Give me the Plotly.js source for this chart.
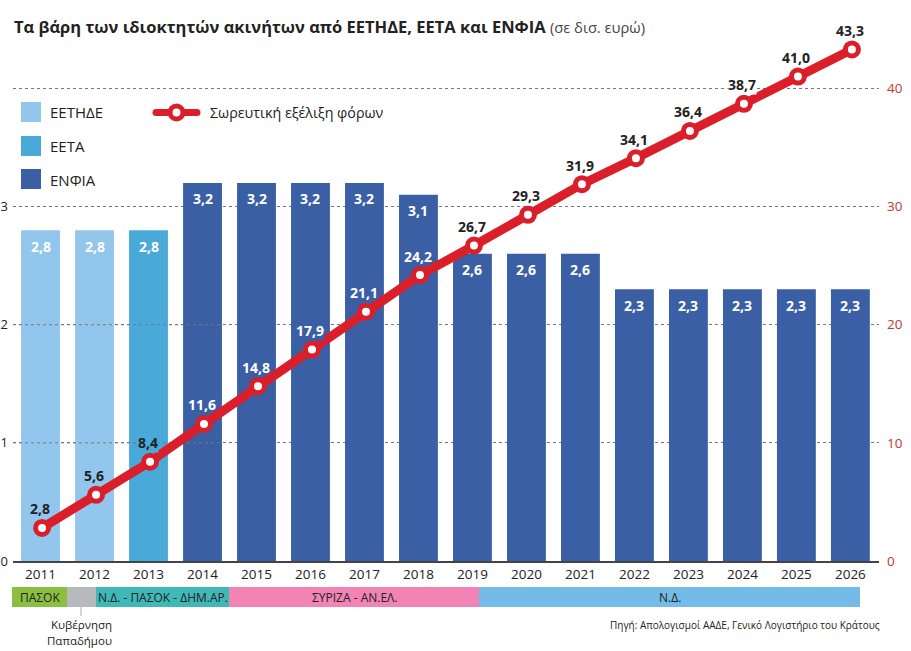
<!DOCTYPE html>
<html><head><meta charset="utf-8">
<script src="https://cdn.plot.ly/plotly-3.0.1.min.js"></script>
<style>html,body{margin:0;padding:0;background:#fff}</style></head>
<body><div id="chart" style="width:911px;height:651px"></div>
<script>
const years = [2011,2012,2013,2014,2015,2016,2017,2018,2019,2020,2021,2022,2023,2024,2025,2026];
const eetide = [2.8,2.8,null,null,null,null,null,null,null,null,null,null,null,null,null,null];
const eeta   = [null,null,2.8,null,null,null,null,null,null,null,null,null,null,null,null,null];
const enfia  = [null,null,null,3.2,3.2,3.2,3.2,3.1,2.6,2.6,2.6,2.3,2.3,2.3,2.3,2.3];
const cumulative = [2.8,5.6,8.4,11.6,14.8,17.9,21.1,24.2,26.7,29.3,31.9,34.1,36.4,38.7,41.0,43.3];
const leftTicks = [0,1,2,3];
const rightTicks = [0,10,20,30,40];
const W=911,H=651,L=13,R=32,T=40,B=90;
const FONT='"Open Sans", sans-serif';
const C={light:'#93c6ec',mid:'#49a9d9',dark:'#3b5fa5',red:'#da1f2b',txt:'#222',grid:'#777'};
const XRANGE=[2010.49,2026.53], LINE_SHIFT=0.028;
const fmt=v=>v.toFixed(1).replace('.',',');
const px=x=>(x-L)/(W-L-R), py=y=>1-(y-T)/(H-T-B);
function barTrace(name,vals,color){return {type:'bar',name,x:years,y:vals,width:0.72,marker:{color,line:{width:0}},yaxis:'y',hoverinfo:'x+y'};}
const traces=[
 barTrace('ΕΕΤΗΔΕ',eetide,C.light),barTrace('ΕΕΤΑ',eeta,C.mid),barTrace('ΕΝΦΙΑ',enfia,C.dark),
 {type:'scatter',mode:'lines',name:'grid',x:[XRANGE[0],2014.36,null,XRANGE[0],2014.36],y:[10,10,null,20,20],yaxis:'y2',hoverinfo:'skip',
  line:{color:C.grid,width:1,dash:'3px,3px'}},
 {type:'scatter',mode:'lines+markers',name:'Σωρευτική εξέλιξη φόρων',x:years,y:cumulative,xaxis:'x2',yaxis:'y2',
  line:{color:C.red,width:9},marker:{size:13,color:'#fff',line:{color:C.red,width:5}}}
];
const ann=[];
function note(x,y,text,size,color,anchor){ann.push({xref:'paper',yref:'paper',x:px(x),y:py(y),text,showarrow:false,xanchor:anchor||'left',yanchor:'middle',font:{family:FONT,size,color:color||C.txt}});}
[eetide,eeta,enfia].forEach(s=>s.forEach((v,i)=>{if(v!=null)ann.push({x:years[i],y:v,xref:'x',yref:'y',text:'<b>'+fmt(v)+'</b>',showarrow:false,yshift:-16,yanchor:'middle',font:{family:FONT,size:14,color:'#fff'}});}));
const whiteLabels=[2014,2015,2016,2017,2018];
const labelBg={2013:C.mid,2016:C.dark,2024:'#fff'};
cumulative.forEach((v,i)=>{const a={x:years[i],y:v,xref:'x2',yref:'y2',text:'<b>'+fmt(v)+'</b>',showarrow:false,xshift:-2,yshift:19,yanchor:'middle',borderpad:0,font:{family:FONT,size:14,color:whiteLabels.includes(years[i])?'#fff':C.txt}};
 if(labelBg[years[i]])a.bgcolor=labelBg[years[i]];ann.push(a);});
note(48,112.5,'ΕΕΤΗΔΕ',15);note(48,146,'ΕΕΤΑ',15);note(48,180,'ΕΝΦΙΑ',15);
note(208,112.5,'Σωρευτική εξέλιξη φόρων',14.3);
const bands=[[12,67,'#8cbf3f','ΠΑΣΟΚ'],[67,96,'#b7b9bc',''],[96,229,'#3fb8b8','Ν.Δ. - ΠΑΣΟΚ - ΔΗΜ.ΑΡ.'],[229,479,'#f184b5','ΣΥΡΙΖΑ - ΑΝ.ΕΛ.'],[479,860,'#74bbe8','Ν.Δ.']];
const rect=(x0,y0,x1,y1,c)=>({type:'rect',xref:'paper',yref:'paper',x0:px(x0),x1:px(x1),y0:py(y0),y1:py(y1),fillcolor:c,line:{width:0},layer:'above'});
const circ=(cx,cy,r,fill,lw)=>({type:'circle',xref:'paper',yref:'paper',x0:px(cx-r),x1:px(cx+r),y0:py(cy+r),y1:py(cy-r),fillcolor:fill,line:{color:C.red,width:lw},layer:'above'});
const shapes=[
 rect(21,102,41,122,C.light),rect(21,136,41,156,C.mid),rect(21,169,41,189,C.dark),
 rect(156,109,197,116,C.red),circ(156,112.5,3.5,C.red,0),circ(197,112.5,3.5,C.red,0),circ(176.5,112.5,6.5,'#fff',5),
 {type:'line',xref:'paper',yref:'paper',x0:px(81),x1:px(81),y0:py(607),y1:py(616),line:{color:'#aaa',width:1}}
];
bands.forEach(b=>shapes.push(rect(b[0],587,b[1],607,b[2])));
bands.forEach(b=>{if(b[3])note((b[0]+b[1])/2,597,b[3],12,C.txt,'center');});
note(114,624.5,'Κυβέρνηση',11.5,C.txt,'right');note(114,640.5,'Παπαδήμου',11.5,C.txt,'right');
note(882,625,'Πηγή: Απολογισμοί ΑΑΔΕ, Γενικό Λογιστήριο του Κράτους',10,C.txt,'right');
const layout={
 width:W,height:H,autosize:false,paper_bgcolor:'#fff',plot_bgcolor:'#fff',showlegend:false,barmode:'overlay',
 margin:{l:L,r:R,t:T,b:B,pad:0},
 title:{text:'<b>Τα βάρη των ιδιοκτητών ακινήτων από ΕΕΤΗΔΕ, ΕΕΤΑ και ΕΝΦΙΑ</b> <span style="font-size:14.7px;color:#444">(σε δισ. ευρώ)</span>',xref:'container',yref:'container',x:14/W,xanchor:'left',y:1-27.5/H,yanchor:'middle',font:{family:FONT,size:16.5,color:C.txt}},
 font:{family:FONT,color:C.txt},
 xaxis:{range:XRANGE,tickmode:'array',tickvals:years,ticktext:years.map(String),ticks:'',showgrid:false,zeroline:false,showline:true,linecolor:'#444',linewidth:1.5,tickfont:{family:FONT,size:13.5,color:C.txt}},
 xaxis2:{range:[XRANGE[0]-LINE_SHIFT,XRANGE[1]-LINE_SHIFT],overlaying:'x',visible:false},
 yaxis:{range:[0,4.41],tickmode:'array',tickvals:leftTicks,ticktext:leftTicks.map(String),ticks:'',ticklabelstandoff:4,showgrid:false,zeroline:false,showline:false,tickfont:{family:FONT,size:13,color:C.txt},automargin:false},
 yaxis2:{range:[0,44.1],overlaying:'y',side:'right',tickmode:'array',tickvals:rightTicks,ticktext:rightTicks.map(String),ticks:'',ticklabelstandoff:7,showgrid:true,gridcolor:C.grid,griddash:'3px,3px',gridwidth:1,zeroline:false,showline:false,tickfont:{family:FONT,size:13.5,color:'#bd3a2e'},automargin:false},
 annotations:ann,shapes:shapes
};
Plotly.newPlot('chart',traces,layout,{displayModeBar:false,responsive:false});
</script></body></html>
